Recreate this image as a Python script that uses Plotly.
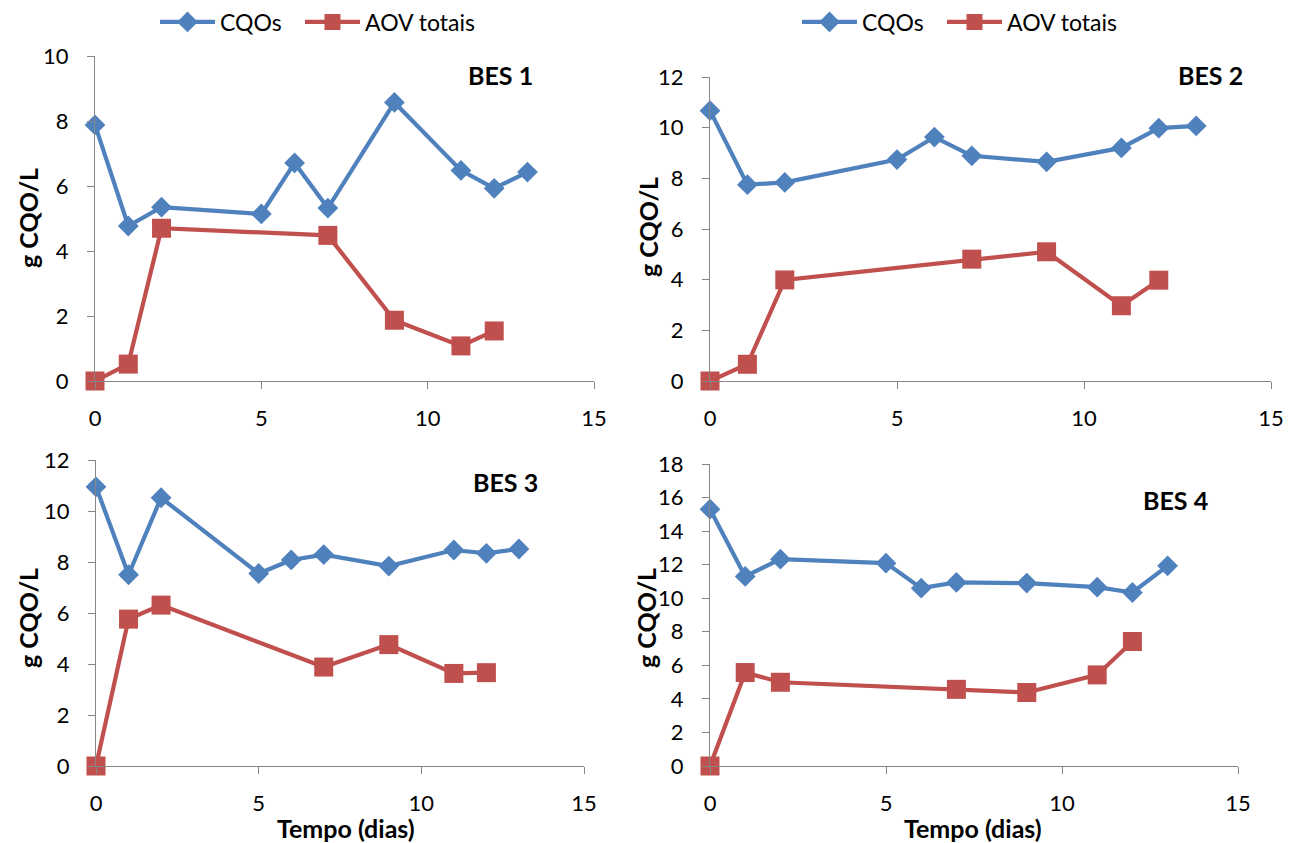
import plotly.graph_objects as go

# Sampling days and measured concentrations (g CQO/L) for the four reactors
dias_cqo = [0, 1, 2, 5, 6, 7, 9, 11, 12, 13]
dias_aov = [0, 1, 2, 7, 9, 11, 12]

bes1_cqo = [7.88, 4.77, 5.35, 5.14, 6.71, 5.32, 8.57, 6.48, 5.93, 6.43]
bes1_aov = [0.0, 0.52, 4.70, 4.48, 1.87, 1.08, 1.54]

bes2_cqo = [10.67, 7.75, 7.84, 8.74, 9.63, 8.89, 8.65, 9.20, 9.98, 10.07]
bes2_aov = [0.0, 0.66, 3.99, 4.81, 5.10, 2.97, 3.98]

bes3_cqo = [10.95, 7.50, 10.52, 7.55, 8.08, 8.29, 7.84, 8.47, 8.34, 8.51]
bes3_aov = [0.0, 5.76, 6.31, 3.88, 4.76, 3.63, 3.66]

bes4_cqo = [15.31, 11.30, 12.33, 12.09, 10.60, 10.94, 10.90, 10.66, 10.34, 11.93]
bes4_aov = [0.0, 5.57, 4.99, 4.57, 4.38, 5.43, 7.42]

paineis = ["BES 1", "BES 2", "BES 3", "BES 4"]
y_max = [10, 12, 12, 18]
y_dtick = [2, 2, 2, 2]
x_max = 15
x_dtick = 5

AZUL = "#4F81BD"
VERMELHO = "#C0504D"
EIXO = "#868686"
FONTE = "Lato, 'Open Sans', sans-serif"

W, H = 1300, 843

# Plot-area boxes in pixels: (left, right, top, bottom)
caixas = [
    (95, 594, 56, 381),
    (710, 1271, 77, 381),
    (96, 584, 460, 766),
    (710, 1238, 464, 766),
]

dados = [
    (bes1_cqo, bes1_aov),
    (bes2_cqo, bes2_aov),
    (bes3_cqo, bes3_aov),
    (bes4_cqo, bes4_aov),
]

# Each legend entry of the two top panels gets its own legend box
legendas = {0: ("legend", "legend3"), 1: ("legend2", "legend4")}

fig = go.Figure()

for i, (cqo, aov) in enumerate(dados):
    n = "" if i == 0 else str(i + 1)
    show = i in legendas
    leg_cqo, leg_aov = legendas.get(i, ("legend", "legend"))
    fig.add_trace(go.Scatter(
        x=dias_cqo, y=cqo, name="CQOs", mode="lines+markers",
        line=dict(color=AZUL, width=4.2),
        marker=dict(symbol="diamond", size=16, color=AZUL),
        xaxis="x" + n, yaxis="y" + n, cliponaxis=False,
        showlegend=show, legend=leg_cqo,
    ))
    fig.add_trace(go.Scatter(
        x=dias_aov, y=aov, name="AOV totais", mode="lines+markers",
        line=dict(color=VERMELHO, width=4.2),
        marker=dict(symbol="square", size=19, color=VERMELHO),
        xaxis="x" + n, yaxis="y" + n, cliponaxis=False,
        showlegend=show, legend=leg_aov,
    ))

layout = dict(
    width=W, height=H,
    margin=dict(l=0, r=0, t=0, b=0, autoexpand=False),
    paper_bgcolor="white", plot_bgcolor="white",
    font=dict(family=FONTE, size=22, color="#000000"),
    annotations=[],
)

for i, (l, r, t, b) in enumerate(caixas):
    n = "" if i == 0 else str(i + 1)
    layout["xaxis" + n] = dict(
        domain=[l / W, r / W], range=[0, x_max], dtick=x_dtick, tick0=0,
        showline=True, linecolor=EIXO, linewidth=1.3,
        ticks="outside", ticklen=7, tickcolor=EIXO, tickwidth=1.3,
        ticklabelstandoff=10,
        showgrid=False, zeroline=False, anchor="y" + n, automargin=False,
        tickfont=dict(size=22),
    )
    layout["yaxis" + n] = dict(
        domain=[(H - b) / H, (H - t) / H], range=[0, y_max[i]], dtick=y_dtick[i],
        showline=True, linecolor=EIXO, linewidth=1.3,
        ticks="outside", ticklen=7, tickcolor=EIXO, tickwidth=1.3,
        ticklabelstandoff=14,
        showgrid=False, zeroline=False, anchor="x" + n, automargin=False,
        tickfont=dict(size=22),
    )

def anot(texto, px, py, size, angle=0):
    layout["annotations"].append(dict(
        text=texto, x=px / W, y=1 - py / H, xref="paper", yref="paper",
        showarrow=False, font=dict(size=size), textangle=angle,
        xanchor="center", yanchor="middle",
    ))

# Reactor labels inside each panel
for nome, (px, py) in zip(paineis, [(500, 75), (1210, 75), (505, 482), (1175, 500)]):
    anot("<b>" + nome + "</b>", px, py, 25)

# Axis titles
for px, py in [(28, 218), (648, 227), (28, 618), (646, 618)]:
    anot("<b>g CQO/L</b>", px, py, 25, angle=-90)
for px, py in [(346, 828), (973, 828)]:
    anot("<b>Tempo (dias)</b>", px, py, 25)

# Legend boxes above the two top panels
for nome, px in [("legend", 155), ("legend3", 300), ("legend2", 797), ("legend4", 942)]:
    layout[nome] = dict(
        orientation="h", x=px / W, y=1 - 22 / H, xanchor="left", yanchor="middle",
        font=dict(size=23), itemwidth=55, bgcolor="rgba(0,0,0,0)",
    )

fig.update_layout(**layout)
fig.write_html("out.html")
